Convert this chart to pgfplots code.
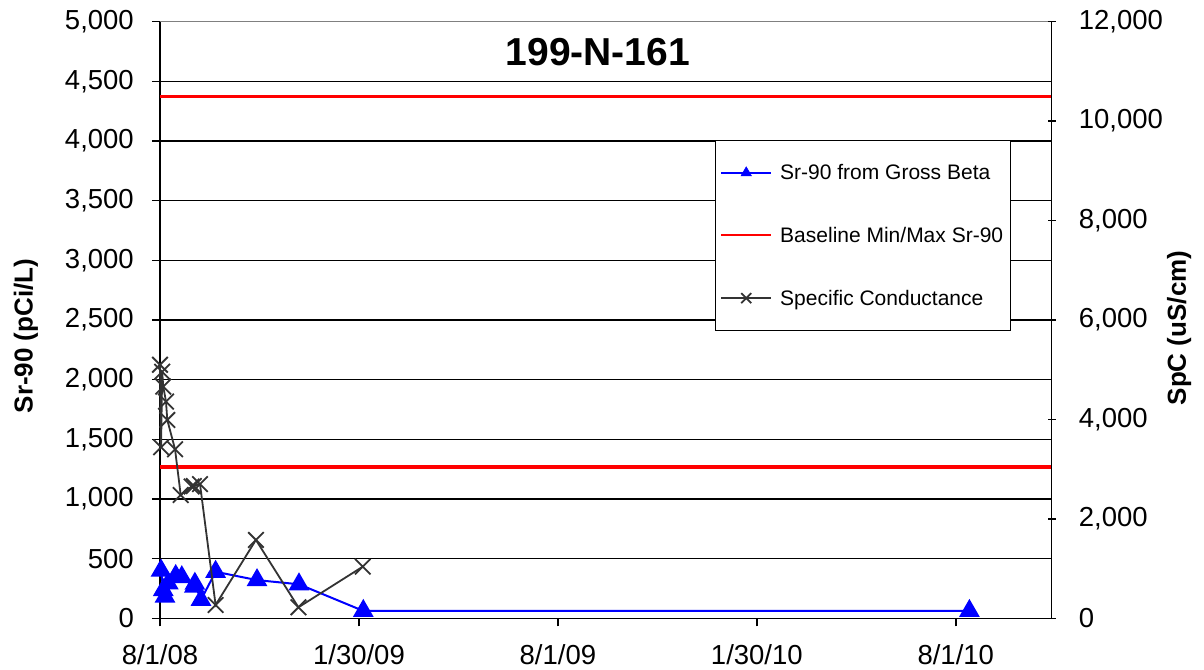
\documentclass[border=0pt]{standalone}
\usepackage{fontspec}
\setmainfont{Liberation Sans}
\usepackage{pgfplots}
\pgfplotsset{compat=1.18}

\definecolor{srblue}{RGB}{0,0,255}
\definecolor{limitred}{RGB}{255,0,0}
\definecolor{spcgray}{RGB}{51,51,51}

% x values are days after 8/1/08
\pgfplotsset{
  common/.style={
    scale only axis, width=891.7bp, height=596.6bp,
    xmin=0, xmax=818, clip=false,
    xtick={0,182.5,365,547.5,730},
    scaled y ticks=false,
    /pgf/number format/assume math mode=true,
    /pgf/number format/1000 sep={,},
    /pgf/number format/fixed,
    tick label style={font=\fontsize{27.5bp}{32bp}\selectfont},
    major tick length=8bp,
    every tick/.style={black, line width=1.5bp},
  }
}

\begin{document}
\begin{tikzpicture}
\useasboundingbox (-160bp,-51.7bp) rectangle (1044bp,618.3bp);

% left axis: Sr-90
\begin{axis}[common,
  axis x line*=bottom, axis y line*=left,
  axis line style={line width=1.5bp, -},
  tick align=outside,
  ymin=0, ymax=5000,
  ytick={0,500,...,4500},
  extra y ticks={5000},
  extra y tick style={major grid style={gray, line width=1.5bp}},
  ymajorgrids, major grid style={black, line width=1.5bp},
  xticklabels={8/1/08,1/30/09,8/1/09,1/30/10,8/1/10},
  yticklabel style={inner sep=0pt},
  yticklabel shift=18bp,
  xticklabel style={inner sep=0pt},
  xticklabel shift=18bp,
]
\addplot[srblue, line width=2bp, mark=triangle*, mark size=10bp,
  mark options={solid, fill=srblue, draw=srblue}] coordinates {
  (1,400) (3,237) (4.6,182) (7.6,293) (14.4,355) (20,345)
  (31.5,265) (32,290) (37.6,155) (51,390) (89,320) (127.5,285)
  (186.5,62) (742.5,62)
};
\addplot[limitred, line width=3.5bp] coordinates {(0,4375) (818,4375)};
\addplot[limitred, line width=3.5bp] coordinates {(0,1270) (818,1270)};
\end{axis}

% right axis: specific conductance
\begin{axis}[common,
  axis x line=none, axis y line*=right,
  axis line style={line width=1.5bp, -},
  tick align=center,
  ymin=0, ymax=12000,
  ytick={0,2000,...,12000},
  yticklabel style={inner sep=0pt},
  yticklabel shift=23bp,
  legend style={at={(0.622,0.802)}, anchor=north west,
    draw, line width=1.2bp, fill=white,
    font=\fontsize{21bp}{24bp}\selectfont,
    inner xsep=5bp, inner ysep=22bp, row sep=42bp,
    legend cell align=left},
  /tikz/every odd column/.append style={column sep=6bp},
]
\addlegendimage{legend image code/.code={%
  \draw[draw=srblue, line width=1.6bp] (0bp,0bp) -- (50bp,0bp);
  \filldraw[fill=srblue, draw=srblue, line width=0.5bp]
    (25bp,0bp) ++(90:6bp) -- ++(-120:10.4bp) -- ++(0:10.4bp) -- cycle;}}
\addlegendentry{Sr-90 from Gross Beta}
\addlegendimage{legend image code/.code={%
  \draw[draw=limitred, line width=2bp] (0bp,0bp) -- (50bp,0bp);}}
\addlegendentry{Baseline Min/Max Sr-90}
\addlegendimage{legend image code/.code={%
  \draw[draw=spcgray, line width=1.8bp] (0bp,0bp) -- (50bp,0bp);
  \draw[draw=spcgray, line width=1.8bp] (20bp,-5bp) -- (30bp,5bp)
    (20bp,5bp) -- (30bp,-5bp);}}
\addlegendentry{Specific Conductance}

\addplot[spcgray, line width=1.8bp, mark=x, mark size=11bp, forget plot]
  coordinates {
  (0,5100) (1,3440) (2,4960) (3,4660) (5.5,4360) (6.7,3990)
  (13.8,3400) (19,2480) (29,2650) (31,2660) (36.7,2700)
  (51,268) (88,1576) (127,221) (186,1039)
};

\node[font=\bfseries\fontsize{39bp}{46bp}\selectfont]
  at (rel axis cs:0.491,0.949) {199-N-161};
\node[rotate=90, font=\bfseries\fontsize{26bp}{30bp}\selectfont]
  at (rel axis cs:-0.1503,0.4732) {Sr-90 (pCi/L)};
\node[rotate=90, font=\bfseries\fontsize{26bp}{30bp}\selectfont]
  at (rel axis cs:1.1428,0.4866) {SpC (uS/cm)};
\end{axis}
\end{tikzpicture}
\end{document}
